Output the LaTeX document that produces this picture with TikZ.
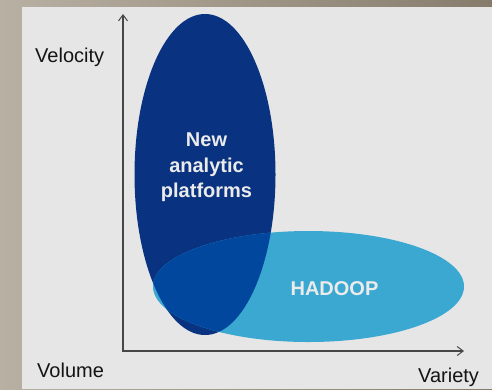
\documentclass[tikz,border=0pt]{standalone}
\usepackage{fontspec}
\setmainfont{Liberation Sans}
\usetikzlibrary{shapes.geometric,arrows.meta}
\definecolor{bgl}{RGB}{184,176,163}
\definecolor{bgr}{RGB}{135,124,108}
\definecolor{panel}{RGB}{230,230,230}
\definecolor{darkblue}{RGB}{9,50,128}
\definecolor{midblue}{RGB}{2,71,158}
\definecolor{lightblue}{RGB}{58,168,208}
\definecolor{axisgray}{RGB}{70,70,70}
\definecolor{labeltext}{RGB}{20,20,20}
\definecolor{whitetext}{RGB}{235,235,235}
\begin{document}
\begin{tikzpicture}[x=1bp,y=-1bp,
  blob/.style={ellipse, inner sep=0pt, outer sep=0pt, draw=none},
  axisline/.style={draw=axisgray, line width=1.1bp, -{Straight Barb[length=6bp,width=9bp,line width=1bp]}},
  axislabel/.style={font=\fontsize{20bp}{24bp}\selectfont, text=labeltext, inner sep=0pt, anchor=base west},
  inlabel/.style={font=\bfseries\fontsize{20bp}{25.5bp}\selectfont, text=whitetext, inner sep=0pt, align=center}]
\shade[left color=bgl, right color=bgr] (0,0) rectangle (492,389);
\useasboundingbox (0,0) rectangle (492,389);
\fill[panel] (22,7) rectangle (492,389);
% axes
\coordinate (origin) at (123,351);
\coordinate (corner) at (123,352);
\coordinate (ytip) at (123,14);
\coordinate (xtip) at (464,351);
\draw[axisline] (corner) -- (ytip);
\draw[axisline] (origin) -- (xtip);
% ellipses
\node[blob, fill=darkblue, minimum width=141bp, minimum height=321bp] (nap) at (205,174.5) {};
\node[blob, fill=lightblue, minimum width=311bp, minimum height=111bp] (had) at (308.5,286.5) {};
\begin{scope}
  \clip (205,174.5) ellipse [x radius=70.5bp, y radius=160.5bp];
  \fill[midblue] (308.5,286.5) ellipse [x radius=155.5bp, y radius=55.5bp];
\end{scope}
% labels
\node[axislabel] (vel) at (35,62.7) {Velocity};
\node[axislabel] (vol) at (37,377) {Volume};
\node[axislabel] (var) at (418,382) {Variety};
\node[inlabel, anchor=base] (naptext) at (206.5,197.7) {New\\analytic\\platforms};
\node[inlabel, anchor=base] (hadtext) at (334.5,295.7) {HADOOP};
\end{tikzpicture}
\end{document}
